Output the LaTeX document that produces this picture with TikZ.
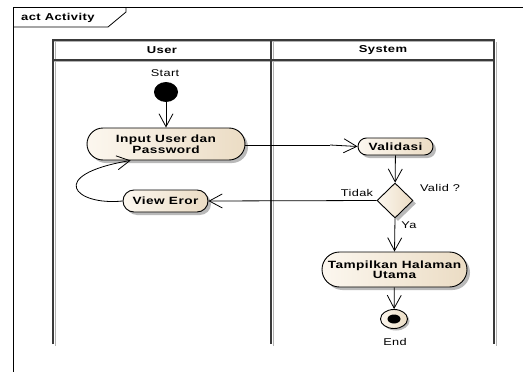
\documentclass[tikz,border=0pt]{standalone}
\usepackage{fontspec}
\usetikzlibrary{arrows.meta,shapes.geometric,shapes.misc,shadows}
\newfontfamily\eafont[FakeStretch=1.3,LetterSpace=4]{Liberation Sans}
\definecolor{beigeL}{HTML}{FCF7EF}
\definecolor{beigeD}{HTML}{EBDCC4}
\definecolor{laneline}{HTML}{3A3A3A}
\tikzset{
  act/.style={rounded rectangle, draw=black, line width=0.9pt, inner sep=0pt,
    left color=beigeL, right color=beigeD,
    drop shadow={shadow xshift=3pt, shadow yshift=-3pt, fill=gray!55, opacity=1},
    font=\eafont\fontsize{10.5}{10.5}\selectfont\bfseries, align=center},
  hdr/.style={font=\eafont\fontsize{10}{10}\selectfont\bfseries, inner sep=0pt},
  lbl/.style={font=\eafont\fontsize{9.8}{10}\selectfont, inner sep=0pt},
  flow/.style={line width=0.8pt, -{Straight Barb[length=13pt,width=14pt,line width=0.8pt]}},
}
\begin{document}
\begin{tikzpicture}[x=1pt,y=-1pt]
\useasboundingbox (0,0) rectangle (523,372);
\fill[white] (0,0) rectangle (523,372);
% frame
\draw[line width=0.8pt] (523,7) -- (13,7) -- (13,372);
\draw[line width=0.8pt] (13,27) -- (108,27) -- (126,12) -- (126,7);
\node[hdr, anchor=west] (title) at (21,17.5) {act Activity};
% lanes shadow
\draw[gray!60, line width=1.5pt] (55.5,42) -- (55.5,345.5);
\draw[gray!60, line width=1.5pt] (273.5,42) -- (273.5,345.5);
\draw[gray!60, line width=1.5pt] (496.5,42) -- (496.5,345.5);
\draw[gray!60, line width=1.2pt] (53,41.5) -- (494,41.5);
\draw[gray!60, line width=1.2pt] (53,61.5) -- (494,61.5);
% lanes
\draw[laneline, line width=1.5pt] (53,344) -- (53,40) -- (494,40) -- (494,344);
\draw[laneline, line width=1.5pt] (271,40) -- (271,344);
\draw[laneline, line width=1.2pt] (53,60) -- (494,60);
\node[hdr] (userh) at (162,50) {User};
\node[hdr] (sysh) at (383,50) {System};
% nodes
\node[lbl] (startlbl) at (165,73) {Start};
\node[ellipse, fill=black, minimum width=24pt, minimum height=20pt, inner sep=0pt] (start) at (166,92) {};
\node[act, minimum width=158pt, minimum height=32pt] (input) at (166,144) {Input User dan\\[0pt]Password};
\node[act, minimum width=85pt, minimum height=22pt] (view) at (165.5,201) {\raisebox{-4pt}{View Eror}};
\node[act, minimum width=75pt, minimum height=17pt] (val) at (395.5,146.5) {\raisebox{-3.5pt}{Validasi}};
\node[diamond, draw=black, line width=0.9pt, inner sep=0pt, minimum width=36pt, minimum height=35pt,
      left color=beigeL, right color=beigeD,
      drop shadow={shadow xshift=3pt, shadow yshift=-3pt, fill=gray!55, opacity=1}] (dec) at (395,200.5) {};
\node[act, minimum width=145pt, minimum height=35pt] (tamp) at (394.5,269.5) {Tampilkan Halaman\\[0pt]Utama};
\node[ellipse, draw=black, line width=0.9pt, left color=beigeL, right color=beigeD, minimum width=27pt, minimum height=19pt, inner sep=0pt,
      drop shadow={shadow xshift=2pt, shadow yshift=-2pt, fill=gray!55, opacity=1}] (end) at (394,319) {};
\node[ellipse, fill=black, minimum width=13pt, minimum height=9pt, inner sep=0pt] (enddot) at (end.center) {};
\node[lbl] (endlbl) at (395,342) {End};
\node[lbl] (validq) at (440,188) {Valid ?};
\node[lbl] (tidak) at (357,193) {Tidak};
\node[lbl] (ya) at (409,225) {Ya};
% connectors
\draw[flow] (start) -- (input);
\coordinate (bend) at (330,145);
\draw[line width=0.8pt] (input.east |- bend) -- (bend);
\draw[flow] (bend) -- (val.west);
\draw[flow] (val) -- (dec);
\draw[flow] (dec.west) -- (view.east);
\draw[flow] (view.west) .. controls (75,206) and (45,175) .. (input.205);
\draw[flow] (dec.south) -- (tamp.north);
\draw[flow] (tamp) -- (end);
\end{tikzpicture}
\end{document}
